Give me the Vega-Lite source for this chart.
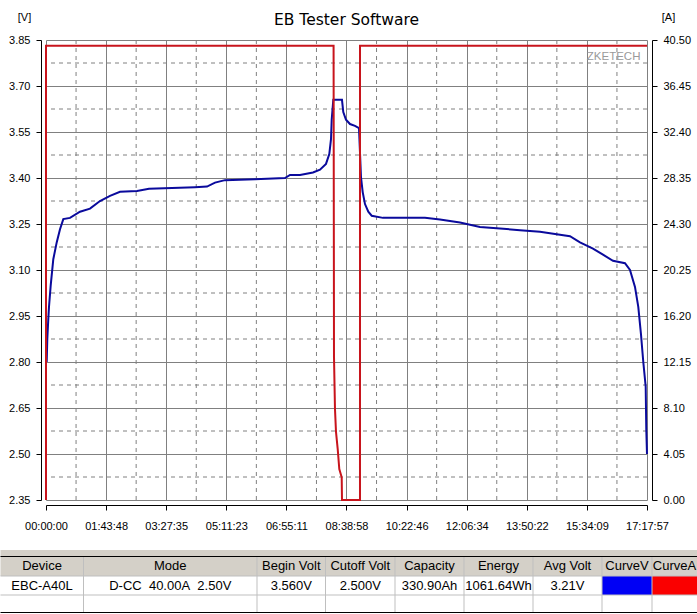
{
  "$schema": "https://vega.github.io/schema/vega-lite/v6.json",
  "background": "white",
  "padding": {"top": 11, "left": 0, "right": 0, "bottom": 0},
  "bounds": "flush",
  "spacing": 50,
  "config": {
    "view": {"stroke": null},
    "font": "Liberation Sans",
    "axis": {"labelFont": "Liberation Sans", "titleFont": "Liberation Sans"}
  },
  "datasets": {
    "voltage": [
      {"sec": 73, "volt": 2.8}, {"sec": 135, "volt": 2.875}, {"sec": 238, "volt": 2.94}, {"sec": 311, "volt": 2.98},
      {"sec": 487, "volt": 3.05}, {"sec": 756, "volt": 3.135}, {"sec": 1109, "volt": 3.19}, {"sec": 1451, "volt": 3.233},
      {"sec": 1793, "volt": 3.266}, {"sec": 2487, "volt": 3.27}, {"sec": 3523, "volt": 3.29}, {"sec": 4559, "volt": 3.3},
      {"sec": 5595, "volt": 3.325}, {"sec": 6632, "volt": 3.342}, {"sec": 7668, "volt": 3.355}, {"sec": 9429, "volt": 3.358},
      {"sec": 10673, "volt": 3.365}, {"sec": 15439, "volt": 3.37}, {"sec": 16683, "volt": 3.372}, {"sec": 17512, "volt": 3.385},
      {"sec": 18548, "volt": 3.393}, {"sec": 21657, "volt": 3.396}, {"sec": 24765, "volt": 3.4}, {"sec": 25283, "volt": 3.41},
      {"sec": 26319, "volt": 3.41}, {"sec": 27666, "volt": 3.418}, {"sec": 28392, "volt": 3.427}, {"sec": 29014, "volt": 3.446},
      {"sec": 29356, "volt": 3.478}, {"sec": 29532, "volt": 3.527}, {"sec": 29605, "volt": 3.59}, {"sec": 29771, "volt": 3.655},
      {"sec": 30670, "volt": 3.655}, {"sec": 30805, "volt": 3.615}, {"sec": 31085, "volt": 3.59}, {"sec": 31500, "volt": 3.576},
      {"sec": 32018, "volt": 3.57}, {"sec": 32433, "volt": 3.563}, {"sec": 32640, "volt": 3.403}, {"sec": 32817, "volt": 3.354},
      {"sec": 33055, "volt": 3.315}, {"sec": 33397, "volt": 3.29}, {"sec": 33750, "volt": 3.277}, {"sec": 34920, "volt": 3.27},
      {"sec": 39272, "volt": 3.27}, {"sec": 40826, "volt": 3.265}, {"sec": 42899, "volt": 3.255}, {"sec": 44971, "volt": 3.24},
      {"sec": 47043, "volt": 3.235}, {"sec": 49116, "volt": 3.23}, {"sec": 51188, "volt": 3.225}, {"sec": 53261, "volt": 3.215},
      {"sec": 54297, "volt": 3.21}, {"sec": 55333, "volt": 3.19}, {"sec": 56680, "volt": 3.17}, {"sec": 57716, "volt": 3.15},
      {"sec": 58753, "volt": 3.13}, {"sec": 59996, "volt": 3.122}, {"sec": 60514, "volt": 3.1}, {"sec": 61032, "volt": 3.045},
      {"sec": 61374, "volt": 2.98}, {"sec": 61654, "volt": 2.89}, {"sec": 61893, "volt": 2.8}, {"sec": 62141, "volt": 2.72},
      {"sec": 62203, "volt": 2.58}, {"sec": 62277, "volt": 2.5}
    ],
    "current": [
      {"sec": 0, "amp": 0}, {"sec": 1, "amp": 40}, {"sec": 29800, "amp": 40}, {"sec": 29843, "amp": 12.6},
      {"sec": 29946, "amp": 8}, {"sec": 30050, "amp": 6}, {"sec": 30226, "amp": 4.5}, {"sec": 30392, "amp": 2.73},
      {"sec": 30641, "amp": 2}, {"sec": 30672, "amp": 0}, {"sec": 32537, "amp": 0}, {"sec": 32538, "amp": 40},
      {"sec": 62277, "amp": 40}
    ],
    "minorTime": [
      {"sec": 3114}, {"sec": 9341}, {"sec": 15569}, {"sec": 21797}, {"sec": 28025},
      {"sec": 34252}, {"sec": 40480}, {"sec": 46708}, {"sec": 52935}, {"sec": 59163}
    ],
    "minorVolt": [
      {"volt": 2.425}, {"volt": 2.575}, {"volt": 2.725}, {"volt": 2.875}, {"volt": 3.025},
      {"volt": 3.175}, {"volt": 3.325}, {"volt": 3.475}, {"volt": 3.625}, {"volt": 3.775}
    ],
    "cells": [
      {"col": 0.5, "row": 1.5, "text": "Device"}, {"col": 1.5, "row": 1.5, "text": "Mode"},
      {"col": 2.5, "row": 1.5, "text": "Begin Volt"}, {"col": 3.5, "row": 1.5, "text": "Cutoff Volt"},
      {"col": 4.5, "row": 1.5, "text": "Capacity"}, {"col": 5.5, "row": 1.5, "text": "Energy"},
      {"col": 6.5, "row": 1.5, "text": "Avg Volt"}, {"col": 7.5, "row": 1.5, "text": "CurveV"},
      {"col": 8.5, "row": 1.5, "text": "CurveA"},
      {"col": 0.5, "row": 2.5, "text": "EBC-A40L"}, {"col": 1.5, "row": 2.5, "text": "D-CC\u00a0\u00a040.00A\u00a0\u00a02.50V"},
      {"col": 2.5, "row": 2.5, "text": "3.560V"}, {"col": 3.5, "row": 2.5, "text": "2.500V"},
      {"col": 4.5, "row": 2.5, "text": "330.90Ah"}, {"col": 5.5, "row": 2.5, "text": "1061.64Wh"},
      {"col": 6.5, "row": 2.5, "text": "3.21V"}
    ]
  },
  "vconcat": [
    {
      "width": 601,
      "height": 460,
      "title": {"text": "EB Tester Software", "anchor": "middle", "frame": "group", "fontSize": 15.5, "fontWeight": "normal", "font": "DejaVu Sans", "color": "black", "offset": -17},
      "layer": [
        {
          "layer": [
            {
              "data": {"name": "minorVolt"},
              "mark": {"type": "rule", "color": "#808080", "strokeDash": [4, 4], "strokeWidth": 1},
              "encoding": {"x": null, "y": {"field": "volt", "type": "quantitative"}}
            },
            {
              "data": {"name": "minorTime"},
              "mark": {"type": "rule", "color": "#808080", "strokeDash": [4, 4], "strokeWidth": 1},
              "encoding": {"y": null, "x": {"field": "sec", "type": "quantitative"}}
            },
            {
              "data": {"values": [{"sec": 61600, "volt": 3.795, "text": "ZKETECH"}]},
              "mark": {"type": "text", "align": "right", "baseline": "middle", "color": "#9a9a9a", "fontSize": 11.5},
              "encoding": {
                "x": {"field": "sec", "type": "quantitative"},
                "y": {"field": "volt", "type": "quantitative"},
                "text": {"field": "text"}
              }
            },
            {
              "data": {"name": "voltage"},
              "mark": {"type": "line", "color": "#0a0a9c", "strokeWidth": 2, "interpolate": "linear"},
              "encoding": {
                "x": {"field": "sec", "type": "quantitative"},
                "y": {"field": "volt", "type": "quantitative"}
              }
            }
          ],
          "encoding": {
            "x": {
              "field": "sec",
              "type": "quantitative",
              "title": null,
              "scale": {"domain": [0, 62277], "nice": false, "zero": false},
              "axis": {
                "values": [0, 6228, 12455, 18683, 24911, 31138, 37366, 43594, 49822, 56049, 62277],
                "labelExpr": "utcFormat(datum.value * 1000, '%H:%M:%S')",
                "offset": 5,
                "grid": true,
                "gridColor": "#808080",
                "gridWidth": 1,
                "domainColor": "black",
                "tickColor": "black",
                "tickSize": 5,
                "labelColor": "black",
                "labelFontSize": 11,
                "labelPadding": 10,
                "labelOverlap": false,
                "labelBound": false,
                "labelFlush": false
              }
            },
            "y": {
              "field": "volt",
              "type": "quantitative",
              "title": "[V]",
              "scale": {"domain": [2.35, 3.85], "nice": false, "zero": false},
              "axis": {
                "values": [2.35, 2.5, 2.65, 2.8, 2.95, 3.1, 3.25, 3.4, 3.55, 3.7, 3.85],
                "format": ".2f",
                "offset": 5,
                "grid": true,
                "gridColor": "#808080",
                "gridWidth": 1,
                "domainColor": "black",
                "tickColor": "black",
                "tickSize": 5,
                "labelColor": "black",
                "labelFontSize": 11,
                "labelPadding": 6,
                "labelOverlap": false,
                "labelBound": false,
                "labelFlush": false,
                "titleAngle": 0,
                "titleX": -17,
                "titleY": -23,
                "titleAlign": "center",
                "titleBaseline": "middle",
                "titleFontSize": 11,
                "titleFontWeight": "normal",
                "titleColor": "black"
              }
            }
          }
        },
        {
          "data": {"name": "current"},
          "mark": {"type": "line", "color": "#c8141c", "strokeWidth": 2, "interpolate": "linear"},
          "encoding": {
            "x": {"field": "sec", "type": "quantitative"},
            "y": {
              "field": "amp",
              "type": "quantitative",
              "title": "[A]",
              "scale": {"domain": [0, 40.5], "nice": false, "zero": false},
              "axis": {
                "orient": "right",
                "values": [0, 4.05, 8.1, 12.15, 16.2, 20.25, 24.3, 28.35, 32.4, 36.45, 40.5],
                "format": ".2f",
                "offset": 5,
                "grid": false,
                "domainColor": "black",
                "tickColor": "black",
                "tickSize": 5,
                "labelColor": "black",
                "labelFontSize": 11,
                "labelPadding": 6,
                "labelOverlap": false,
                "labelBound": false,
                "labelFlush": false,
                "titleAngle": 0,
                "titleX": 16,
                "titleY": -23,
                "titleAlign": "center",
                "titleBaseline": "middle",
                "titleFontSize": 11,
                "titleFontWeight": "normal",
                "titleColor": "black"
              }
            }
          }
        }
      ],
      "resolve": {"scale": {"y": "independent"}, "axis": {"y": "independent"}}
    },
    {
      "width": 601,
      "height": 63,
      "encoding": {
        "x": {
          "type": "quantitative",
          "title": null,
          "axis": null,
          "scale": {"domain": [0, 1, 2, 3, 4, 5, 6, 7, 8, 9], "range": [-45.5, 37.5, 211, 279.5, 349, 418, 487, 556, 606, 651], "nice": false, "zero": false}
        },
        "y": {
          "type": "quantitative",
          "title": null,
          "axis": null,
          "scale": {"domain": [0, 1, 2, 3, 4], "range": [0, 6.5, 26, 45, 62.5], "nice": false, "zero": false}
        }
      },
      "layer": [
        {
          "data": {"values": [{"from": 0, "to": 9, "top": 0, "bottom": 2}]},
          "mark": {"type": "rect", "color": "#d4d0c8"},
          "encoding": {
            "x": {"field": "from"}, "x2": {"field": "to"},
            "y": {"field": "top"}, "y2": {"field": "bottom"}
          }
        },
        {
          "data": {"values": [{"from": 7, "to": 8, "colour": "CurveV"}]},
          "mark": {"type": "rect", "color": "#0000f5"},
          "encoding": {
            "x": {"field": "from"}, "x2": {"field": "to"},
            "y": {"datum": 2}, "y2": {"datum": 3}
          }
        },
        {
          "data": {"values": [{"from": 8, "to": 9, "colour": "CurveA"}]},
          "mark": {"type": "rect", "color": "#fa0000"},
          "encoding": {
            "x": {"field": "from"}, "x2": {"field": "to"},
            "y": {"datum": 2}, "y2": {"datum": 3}
          }
        },
        {
          "data": {"values": [{"col": 1}, {"col": 2}, {"col": 3}, {"col": 4}, {"col": 5}, {"col": 6}, {"col": 7}, {"col": 8}]},
          "mark": {"type": "rule", "color": "#bfbfbf", "strokeWidth": 1},
          "encoding": {
            "x": {"field": "col"},
            "y": {"datum": 1}, "y2": {"datum": 4}
          }
        },
        {
          "data": {"values": [{"row": 2}, {"row": 3}]},
          "mark": {"type": "rule", "color": "#bfbfbf", "strokeWidth": 1},
          "encoding": {
            "x": {"datum": 0}, "x2": {"datum": 9},
            "y": {"field": "row"}
          }
        },
        {
          "data": {"values": [{"row": 1}, {"row": 4}]},
          "mark": {"type": "rule", "color": "black", "strokeWidth": 1},
          "encoding": {
            "x": {"datum": 0}, "x2": {"datum": 9},
            "y": {"field": "row"}
          }
        },
        {
          "data": {"name": "cells"},
          "mark": {"type": "text", "align": "center", "baseline": "middle", "color": "black", "fontSize": 13},
          "encoding": {
            "x": {"field": "col"},
            "y": {"field": "row"},
            "text": {"field": "text"}
          }
        }
      ]
    }
  ]
}
